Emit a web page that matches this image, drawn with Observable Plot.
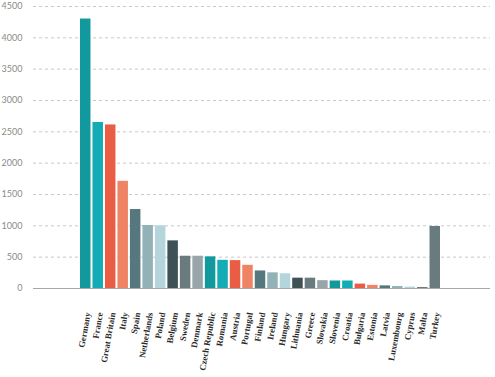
<!DOCTYPE html>
<html>
<head>
<meta charset="utf-8">
<script src="https://cdn.jsdelivr.net/npm/d3@7"></script>
<script src="https://cdn.jsdelivr.net/npm/@observablehq/plot@0.6"></script>
<style>
  html, body { margin: 0; padding: 0; background: #fff; }
  #chart svg { display: block; }
</style>
</head>
<body>
<div id="chart"></div>
<script>
const countries = ["Germany","France","Great Britain","Italy","Spain","Netherlands","Poland","Belgium","Sweden","Denmark","Czech Republic","Romania","Austria","Portugal","Finland","Ireland","Hungary","Lithuania","Greece","Slovakia","Slovenia","Croatia","Bulgaria","Estonia","Latvia","Luxembourg","Cyprus","Malta","Turkey"];
const values = [4300,2650,2610,1710,1260,1005,1000,760,515,515,505,450,445,370,280,250,235,165,165,125,120,120,70,50,42,32,22,12,990];
const palette = ["#11999e","#14abb5","#ea5d45","#ef8366","#56777e","#93b2b8","#b4d5dc","#3e5155","#6a7b80","#98a5a9"];
const yTicks = [0,500,1000,1500,2000,2500,3000,3500,4000,4500];

const data = countries.map((c, i) => ({country: c, value: values[i], color: palette[i % palette.length]}));

const chart = Plot.plot({
  width: 495,
  height: 377,
  marginLeft: 33,
  marginRight: 5,
  marginTop: 6,
  marginBottom: 89,
  style: {fontFamily: "Lato, sans-serif", background: "#fff"},
  x: {domain: countries, round: false, paddingInner: 0.16, paddingOuter: 0.08, insetLeft: 46, insetRight: 49},
  y: {domain: [0, 4500]},
  marks: [
    Plot.gridY(yTicks, {stroke: "#c8c8c8", strokeOpacity: 1, strokeDasharray: "3,3"}),
    Plot.barY(data, {x: "country", y: "value", fill: "color"}),
    Plot.ruleY([0], {stroke: "#a8a8a8", strokeWidth: 1.2}),
    Plot.ruleX([0], {frameAnchor: "left", stroke: "#a0a0a0", y1: 0, y2: 4500}),
    Plot.axisY(yTicks, {tickSize: 0, tickPadding: 11, fontSize: 9, fill: "#8a8a8a", label: null, tickFormat: d => String(d)}),
    Plot.axisX({tickSize: 0, tickRotate: -80, tickPadding: 24, dx: 2, fontSize: 8.8, fontWeight: "bold", fontFamily: "Liberation Serif, serif", fill: "#2a2a2a", label: null})
  ]
});
document.getElementById("chart").appendChild(chart);
</script>
</body>
</html>
